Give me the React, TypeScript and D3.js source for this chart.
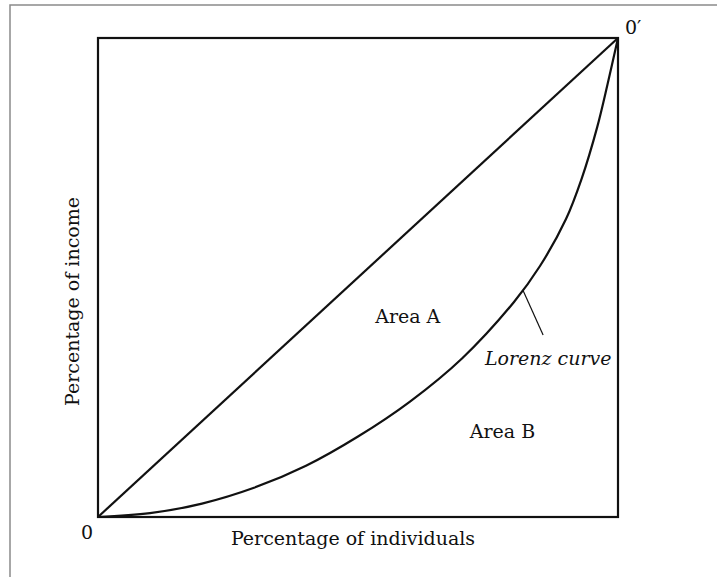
import React from "react";
import * as d3 from "d3";

// cumulative share of individuals (%) and share of income they receive (%)
const shareIndividuals = [0, 10, 20, 30, 40, 50, 60, 70, 80, 85, 90, 93, 96, 98, 100];
const shareIncome = [0, 0.8, 2.8, 6.1, 10.7, 16.8, 24.1, 33.1, 44.9, 52.4, 62.2, 70.6, 81.4, 90.4, 100];

const equality = [0, 100];

const labels = [
  { text: "Area A", x: 53.3, y: 40.5, italic: false },
  { text: "Lorenz curve", x: 74.4, y: 31.7, italic: true },
  { text: "Area B", x: 71.5, y: 16.5, italic: false },
];

// pointer from the label to the curve
const leader = [
  { x: 81.7, y: 47.4 },
  { x: 85.6, y: 38.0 },
];

const W = 717;
const H = 577;
const margin = { top: 38, right: 99, bottom: 60, left: 98 };

const App: React.FC = () => {
  const x = d3.scaleLinear().domain([0, 100]).range([margin.left, W - margin.right]);
  const y = d3.scaleLinear().domain([0, 100]).range([H - margin.bottom, margin.top]);

  const lorenz = shareIndividuals.map((d, i) => ({ x: d, y: shareIncome[i] }));

  const curve = d3
    .line<{ x: number; y: number }>()
    .x((d) => x(d.x))
    .y((d) => y(d.y))
    .curve(d3.curveCatmullRom.alpha(0.5));

  const straight = d3
    .line<{ x: number; y: number }>()
    .x((d) => x(d.x))
    .y((d) => y(d.y));

  const font = "'DejaVu Serif', serif";
  const ink = "#111";
  const fs = 19;

  return (
    <svg
      width={W}
      height={H}
      style={{ position: "absolute", left: 0, top: 0, background: "#fff" }}
    >
      {/* page frame */}
      <rect x={10} y={5} width={W} height={H} fill="none" stroke="#8a8a8a" strokeWidth={1.5} />

      {/* box */}
      <rect
        x={x(0)}
        y={y(100)}
        width={x(100) - x(0)}
        height={y(0) - y(100)}
        fill="none"
        stroke={ink}
        strokeWidth={2.2}
      />

      {/* line of equality */}
      <path
        d={straight(equality.map((v) => ({ x: v, y: v }))) ?? ""}
        fill="none"
        stroke={ink}
        strokeWidth={2.2}
      />

      {/* Lorenz curve */}
      <path d={curve(lorenz) ?? ""} fill="none" stroke={ink} strokeWidth={2.2} />

      <path d={straight(leader) ?? ""} fill="none" stroke={ink} strokeWidth={1.2} />

      {labels.map((l) => (
        <text
          key={l.text}
          x={x(l.x)}
          y={y(l.y)}
          fontFamily={font}
          fontSize={fs}
          fontStyle={l.italic ? "italic" : "normal"}
          fill={ink}
        >
          {l.text}
        </text>
      ))}

      <text x={x(0) - 17} y={y(0) + 22} fontFamily={font} fontSize={fs} fill={ink}>
        0
      </text>
      <text x={x(100) + 7} y={y(100) - 4} fontFamily={font} fontSize={fs} fill={ink}>
        0′
      </text>

      <text
        x={(x(0) + x(100)) / 2 - 5}
        y={y(0) + 28}
        textAnchor="middle"
        fontFamily={font}
        fontSize={fs}
        fill={ink}
      >
        Percentage of individuals
      </text>
      <text
        transform={`translate(${x(0) - 19},${(y(0) + y(100)) / 2 + 24}) rotate(-90)`}
        textAnchor="middle"
        fontFamily={font}
        fontSize={fs}
        fill={ink}
      >
        Percentage of income
      </text>
    </svg>
  );
};

export default App;
